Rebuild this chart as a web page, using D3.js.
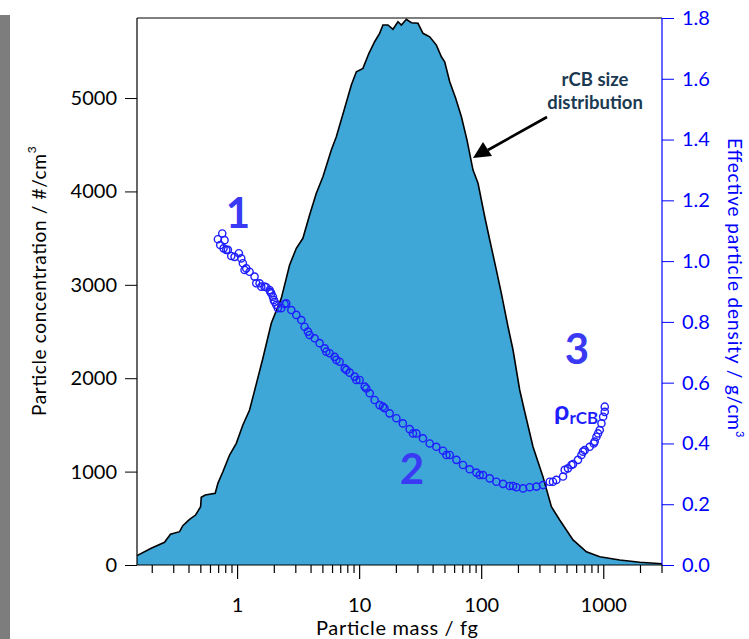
<!DOCTYPE html>
<html>
<head>
<meta charset="utf-8">
<script src="https://cdn.jsdelivr.net/npm/d3@7"></script>
<style>
  body { margin: 0; background: #fff; }
  svg { font-family: Lato, "Open Sans", sans-serif; }
</style>
</head>
<body>
<div id="chart"></div>
<script>
// rCB size distribution (mass in fg, concentration in #/cm3)
const sizeMass = [0.15, 0.196, 0.252, 0.282, 0.335, 0.356, 0.404, 0.453, 0.498, 0.504, 0.543, 0.656, 0.690, 0.758,
  0.860, 0.976, 1.105, 1.254, 1.360, 1.612, 1.889, 2.281, 2.668, 3.028, 3.429, 3.892, 4.416, 5.004, 5.861,
  6.442, 7.535, 8.551, 9.40, 10.64, 11.92, 13.27, 14.58, 15.52, 17.06, 18.75, 20.61, 21.98, 24.15, 26.54,
  30.06, 33.04, 37.5, 42.54, 46.75, 49.75, 54.7, 61.2, 68.2, 75.8, 84.9, 93.3, 105.9, 116.4, 131.9, 144.9,
  164.3, 180.6, 204.8, 225.1, 263.2, 317.6, 372.4, 435.5, 560, 721, 927, 1352, 1972, 3000];
const sizeConc = [100, 179, 243, 329, 357, 421, 489, 535, 624, 725, 749, 768, 875, 999,
  1178, 1303, 1499, 1660, 1838, 2213, 2588, 2855, 3212, 3391, 3498, 3747, 3980, 4157, 4443,
  4586, 4890, 5139, 5282, 5318, 5479, 5603, 5693, 5782, 5782, 5736, 5817, 5782, 5843, 5806,
  5800, 5693, 5656, 5567, 5442, 5389, 5174, 4997, 4800, 4550, 4229, 4087, 3729, 3480, 3158, 2909,
  2551, 2302, 1874, 1641, 1267, 945, 624, 482, 268, 142, 89, 54, 29, 14];

// effective particle density (mass in fg, density in g/cm3)
const rhoMass = [0.749, 0.690, 0.782, 0.721, 0.768, 0.808, 0.833, 0.888, 0.945, 1.025, 1.072, 1.105, 1.141, 1.178,
  1.254, 1.378, 1.423, 1.514, 1.564, 1.665, 1.719, 1.830, 1.853, 1.889, 1.947, 1.983, 2.011, 2.076, 2.140, 2.281,
  2.427, 2.506, 2.755, 3.028, 3.327, 3.541, 3.770, 3.892, 4.28, 4.70, 5.17, 5.333, 5.68, 6.24, 6.442, 6.85, 7.54,
  7.78, 8.28, 9.10, 9.40, 10.0, 11.0, 11.35, 12.1, 13.27, 14.58, 15.52, 16.0, 17.6, 20.0, 22.6, 25.7, 27.35, 29.2,
  33.0, 37.5, 42.5, 48.2, 51.4, 54.7, 62.1, 70.3, 79.7, 90.5, 96.3, 102.6, 116.4, 131.9, 149.5, 169.7, 180.6,
  192.4, 218.1, 247.4, 280.6, 317.6, 360.9, 383.7, 409, 463.7, 478.6, 509, 543, 560, 615, 656, 676, 698, 767,
  828, 843, 871, 898, 927, 957, 988, 1019, 1019];
const rhoVal = [1.091, 1.072, 1.069, 1.053, 1.042, 1.037, 1.037, 1.017, 1.014, 1.026, 1.009, 0.993, 0.971, 0.976,
  0.965, 0.949, 0.927, 0.927, 0.916, 0.916, 0.914, 0.905, 0.899, 0.894, 0.883, 0.872, 0.866, 0.856, 0.845, 0.845,
  0.859, 0.861, 0.839, 0.823, 0.806, 0.784, 0.768, 0.757, 0.746, 0.730, 0.713, 0.702, 0.697, 0.685, 0.675, 0.669, 0.647,
  0.642, 0.633, 0.620, 0.609, 0.609, 0.587, 0.581, 0.565, 0.543, 0.526, 0.521, 0.516, 0.499, 0.483, 0.466, 0.447, 0.433, 0.433,
  0.417, 0.400, 0.389, 0.376, 0.362, 0.362, 0.346, 0.329, 0.315, 0.304, 0.296, 0.296, 0.285, 0.274, 0.267, 0.260, 0.260,
  0.256, 0.252, 0.256, 0.258, 0.263, 0.274, 0.274, 0.280, 0.291, 0.313, 0.318, 0.329, 0.332, 0.346, 0.362, 0.373, 0.378, 0.389,
  0.400, 0.406, 0.422, 0.433, 0.444, 0.466, 0.488, 0.504, 0.521];

const concTicks = [0, 1000, 2000, 3000, 4000, 5000];
const rhoTicks = [0.0, 0.2, 0.4, 0.6, 0.8, 1.0, 1.2, 1.4, 1.6, 1.8];
const massLabels = [1, 10, 100, 1000];

const width = 749, height = 639;
const plotL = 137, plotR = 662, plotT = 18, plotB = 565;
const blue = "#1e1eff";

const svg = d3.select("#chart").append("svg")
  .attr("width", width)
  .attr("height", height);

// grey strip on the left edge of the original picture
svg.append("rect").attr("x", 0).attr("y", 15).attr("width", 10).attr("height", height - 15)
  .attr("fill", "#7d7d7d");

// scales
const x = d3.scaleLog().domain([0.15, 3000]).range([plotL, plotR]);
const y = d3.scaleLinear().domain([0, 5857]).range([plotB, plotT]);
const y2 = d3.scaleLinear().domain([0, 1.8]).range([plotB, plotT]);

const sizeData = sizeMass.map((m, i) => ({ m: m, c: sizeConc[i] }));
const rhoData = rhoMass.map((m, i) => ({ m: m, r: rhoVal[i] }));

// distribution area
svg.append("path")
  .datum(sizeData)
  .attr("fill", "#3fa6d8")
  .attr("d", d3.area()
    .x(d => x(d.m))
    .y0(y(0))
    .y1(d => y(d.c)));

svg.append("path")
  .datum(sizeData)
  .attr("fill", "none")
  .attr("stroke", "#000")
  .attr("stroke-width", 1.6)
  .attr("d", d3.line()
    .x(d => x(d.m))
    .y(d => y(d.c)));

// density markers
svg.append("g")
  .selectAll("circle")
  .data(rhoData)
  .join("circle")
  .attr("cx", d => x(d.m))
  .attr("cy", d => y2(d.r))
  .attr("r", 3.6)
  .attr("fill", "none")
  .attr("stroke", blue)
  .attr("stroke-width", 1.4);

// frame
svg.append("line").attr("x1", plotL).attr("x2", plotR).attr("y1", plotT).attr("y2", plotT)
  .attr("stroke", "#000").attr("stroke-width", 1.2);

// left axis
const yAxis = d3.axisLeft(y).tickValues(concTicks).tickSize(12).tickPadding(8).tickFormat(d3.format("d"));
const gy = svg.append("g").attr("transform", `translate(${plotL},0)`).call(yAxis);
gy.select(".domain").attr("d", `M0,${plotT}V${plotB}`).attr("stroke-width", 1.2);
gy.selectAll("text").attr("font-size", 20).attr("fill", "#000").attr("font-family", "Lato");

// right axis
const y2Axis = d3.axisRight(y2).tickValues(rhoTicks).tickSize(12).tickPadding(8).tickFormat(d3.format(".1f"));
const gy2 = svg.append("g").attr("transform", `translate(${plotR},0)`).call(y2Axis);
gy2.select(".domain").attr("d", `M0,${plotT}V${plotB}`).attr("stroke", "#0000ff").attr("stroke-width", 1.2);
gy2.selectAll("line").attr("stroke", "#0000ff");
gy2.selectAll("text").attr("font-size", 20).attr("fill", "#0000ff").attr("font-family", "Lato");

// bottom axis, log ticks
const gx = svg.append("g").attr("transform", `translate(0,${plotB})`);
gx.append("line").attr("x1", plotL).attr("x2", plotR).attr("stroke", "#000").attr("stroke-width", 1.2);
const allTicks = x.ticks().filter(t => t >= 0.15 && t <= 3000);
gx.selectAll("line.tick")
  .data(allTicks)
  .join("line")
  .attr("class", "tick")
  .attr("x1", d => x(d)).attr("x2", d => x(d))
  .attr("y1", 0)
  .attr("y2", d => massLabels.includes(d) ? 14 : 8)
  .attr("stroke", "#000").attr("stroke-width", 1.2);
gx.selectAll("text")
  .data(massLabels)
  .join("text")
  .attr("x", d => x(d))
  .attr("y", 47)
  .attr("text-anchor", "middle")
  .attr("font-size", 20)
  .text(d => d);

// axis titles
svg.append("text")
  .attr("x", 397).attr("y", 635)
  .attr("text-anchor", "middle")
  .attr("font-size", 20)
  .attr("textLength", 162)
  .attr("lengthAdjust", "spacing")
  .text("Particle mass / fg");

const lt = svg.append("text")
  .attr("transform", "translate(46,416) rotate(-90)")
  .attr("font-size", 19);
lt.append("tspan").attr("textLength", 262).attr("lengthAdjust", "spacing").text("Particle concentration / #/cm");
lt.append("tspan").attr("dy", -10).attr("font-size", 12).text("3");

const rt = svg.append("text")
  .attr("transform", "translate(728,138) rotate(90)")
  .attr("font-size", 19)
  .attr("fill", "#0000ff");
rt.append("tspan").attr("textLength", 292).attr("lengthAdjust", "spacing").text("Effective particle density / g/cm");
rt.append("tspan").attr("dy", -8).attr("font-size", 11).text("3");

// region labels
const regionLabels = [{ t: "1", x: 238, y: 228 }, { t: "2", x: 412, y: 484 }, { t: "3", x: 577, y: 364 }];
svg.selectAll("text.region")
  .data(regionLabels)
  .join("text")
  .attr("class", "region")
  .attr("x", d => d.x).attr("y", d => d.y)
  .attr("text-anchor", "middle")
  .attr("font-size", 42)
  .attr("font-weight", "bold")
  .attr("fill", "#3a3af5")
  .text(d => d.t);

const rho = svg.append("text")
  .attr("x", 554).attr("y", 420)
  .attr("font-weight", "bold")
  .attr("fill", blue);
rho.append("tspan").attr("font-size", 27).text("ρ");
rho.append("tspan").attr("dy", 4).attr("font-size", 17).text("rCB");

// annotation
const note = svg.append("text")
  .attr("text-anchor", "middle")
  .attr("font-size", 18.5)
  .attr("font-weight", "bold")
  .attr("fill", "#1b3a52");
note.append("tspan").attr("x", 595).attr("y", 86).text("rCB size");
note.append("tspan").attr("x", 595).attr("y", 109).text("distribution");

svg.append("line")
  .attr("x1", 547).attr("y1", 117).attr("x2", 488).attr("y2", 150)
  .attr("stroke", "#000").attr("stroke-width", 2.6);
svg.append("path")
  .attr("d", "M473,158 L483,142 L492,156 Z")
  .attr("fill", "#000");
</script>
</body>
</html>
